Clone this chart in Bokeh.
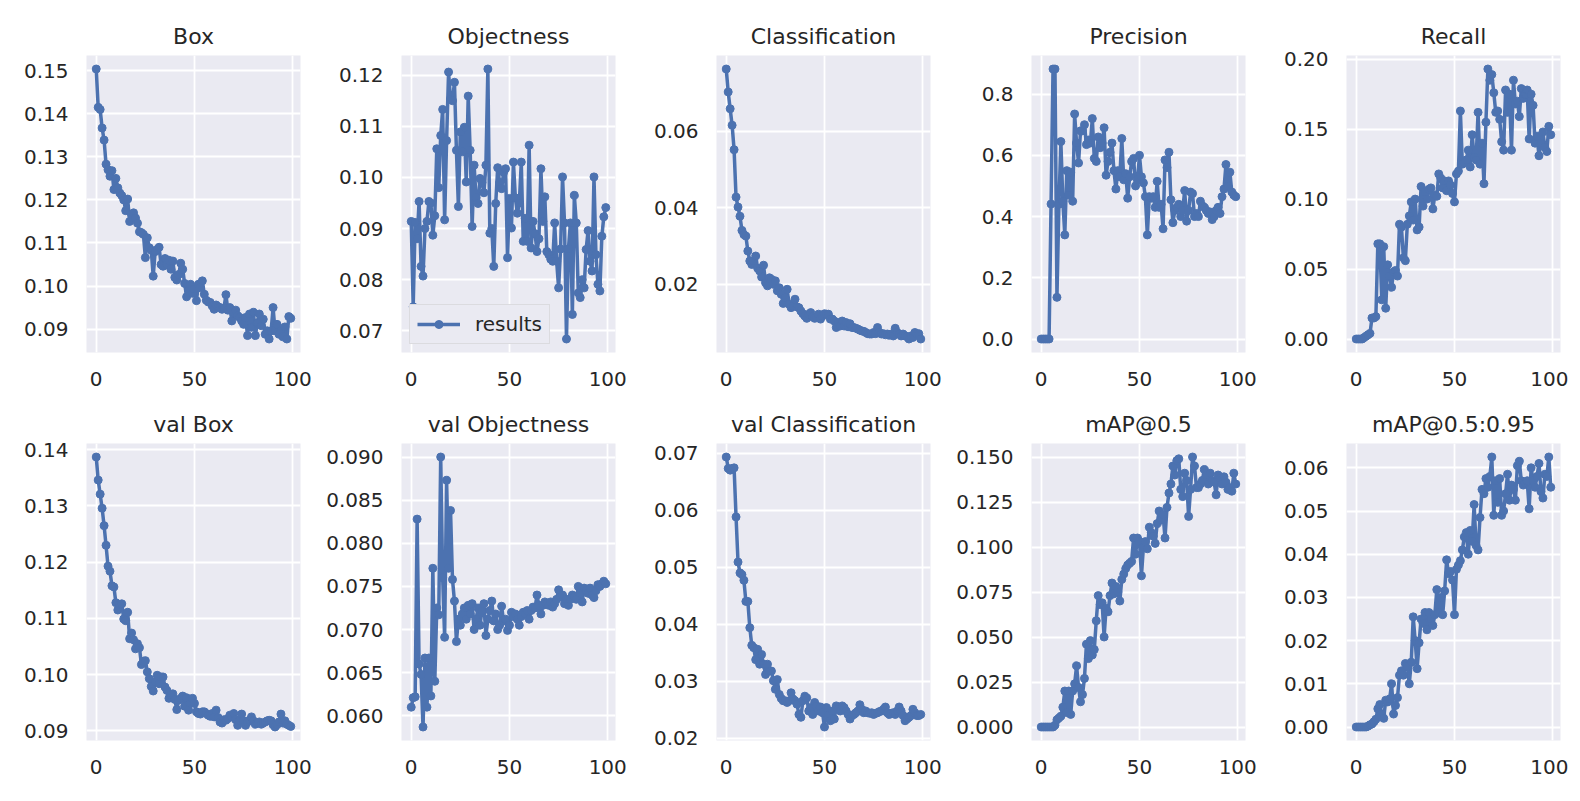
from bokeh.plotting import figure
from bokeh.layouts import gridplot
from bokeh.models import FixedTicker, PrintfTickFormatter, Range1d
from bokeh.embed import file_html
from bokeh.resources import INLINE

epochs = list(range(100))

titles = ["Box", "Objectness", "Classification", "Precision", "Recall",
          "val Box", "val Objectness", "val Classification", "mAP@0.5", "mAP@0.5:0.95"]

box = [0.1504,0.1415,0.1410,0.1367,0.1339,0.1283,0.1270,0.1255,0.1268,0.1224,
0.1250,0.1228,0.1216,0.1210,0.1200,0.1175,0.1202,0.1150,0.1166,0.1170,
0.1158,0.1146,0.1126,0.1124,0.1120,0.1066,0.1112,0.1089,0.1083,0.1023,
0.1080,0.1085,0.1090,0.1050,0.1046,0.1064,0.1050,0.1060,0.1039,0.1058,
0.1020,0.1014,0.1027,0.1053,0.1039,0.1006,0.0975,0.0989,0.1004,0.0983,
0.0993,0.0966,0.1004,0.0996,0.1012,0.0981,0.0967,0.0963,0.0962,0.0954,
0.0946,0.0956,0.0952,0.0950,0.0946,0.0949,0.0980,0.0944,0.0950,0.0919,
0.0939,0.0944,0.0931,0.0927,0.0919,0.0911,0.0927,0.0885,0.0935,0.0904,
0.0939,0.0885,0.0915,0.0935,0.0908,0.0923,0.0888,0.0896,0.0877,0.0896,
0.0950,0.0896,0.0911,0.0888,0.0896,0.0882,0.0905,0.0877,0.0929,0.0925]

objectness = [0.0914,0.0747,0.0912,0.0880,0.0953,0.0826,0.0807,0.0900,0.0914,0.0953,
0.0950,0.0887,0.0925,0.1056,0.0980,0.1082,0.1133,0.0917,0.1072,0.1206,
0.1153,0.1150,0.1186,0.1053,0.0943,0.1089,0.1050,0.1098,0.0991,0.1159,
0.1053,0.0904,0.1024,0.0960,0.0949,0.0998,0.0990,0.0970,0.1024,0.1212,
0.0891,0.0900,0.0826,0.0949,0.1019,0.0990,0.0978,0.1010,0.1017,0.0843,
0.0959,0.0901,0.1030,0.0960,0.0930,0.0950,0.1030,0.0875,0.0920,0.0875,
0.1063,0.0862,0.0914,0.0890,0.0855,0.0880,0.1017,0.0914,0.0962,0.0855,
0.0849,0.0840,0.0836,0.0911,0.0836,0.0784,0.0860,0.1001,0.0911,0.0684,
0.0860,0.0911,0.0732,0.0965,0.0911,0.0774,0.0765,0.0800,0.0784,0.0859,
0.0896,0.0836,0.0817,0.1001,0.0849,0.0791,0.0778,0.0885,0.0923,0.0941]

classification = [0.0763,0.0703,0.0659,0.0616,0.0552,0.0428,0.0402,0.0378,0.0341,0.0330,
0.0326,0.0287,0.0261,0.0252,0.0261,0.0274,0.0242,0.0235,0.0219,0.0250,
0.0204,0.0196,0.0217,0.0213,0.0200,0.0209,0.0183,0.0191,0.0174,0.0150,
0.0165,0.0187,0.0148,0.0139,0.0143,0.0161,0.0141,0.0139,0.0130,0.0123,
0.0117,0.0111,0.0122,0.0126,0.0115,0.0111,0.0113,0.0122,0.0109,0.0117,
0.0123,0.0122,0.0122,0.0109,0.0109,0.0104,0.0087,0.0100,0.0091,0.0104,
0.0091,0.0100,0.0089,0.0097,0.0087,0.0087,0.0085,0.0083,0.0080,0.0078,
0.0077,0.0074,0.0071,0.0070,0.0070,0.0074,0.0071,0.0087,0.0074,0.0070,
0.0071,0.0068,0.0070,0.0067,0.0070,0.0065,0.0085,0.0074,0.0070,0.0065,
0.0070,0.0065,0.0063,0.0057,0.0065,0.0061,0.0074,0.0070,0.0071,0.0057]

precision = [0,0,0,0,0,0.441,0.882,0.882,0.136,0.44,
0.645,0.45,0.34,0.55,0.47,0.545,0.45,0.735,0.64,0.575,
0.68,0.68,0.70,0.635,0.65,0.64,0.72,0.59,0.58,0.66,
0.625,0.64,0.69,0.535,0.58,0.61,0.64,0.55,0.49,0.55,
0.53,0.655,0.52,0.54,0.46,0.53,0.58,0.59,0.50,0.52,
0.60,0.53,0.51,0.465,0.34,0.465,0.46,0.465,0.43,0.515,
0.43,0.44,0.36,0.585,0.56,0.61,0.455,0.38,0.42,0.43,
0.44,0.40,0.42,0.485,0.385,0.42,0.48,0.475,0.40,0.41,
0.40,0.45,0.435,0.43,0.42,0.41,0.415,0.39,0.40,0.42,
0.43,0.41,0.465,0.49,0.57,0.50,0.545,0.48,0.47,0.465]

recall = [0,0,0,0,0.001,0.002,0.003,0.004,0.015,0.015,
0.016,0.068,0.068,0.028,0.066,0.022,0.053,0.045,0.037,0.048,
0.049,0.045,0.082,0.080,0.058,0.056,0.082,0.088,0.098,0.085,
0.100,0.078,0.080,0.109,0.095,0.105,0.100,0.107,0.108,0.093,
0.103,0.102,0.118,0.115,0.108,0.113,0.106,0.113,0.110,0.104,
0.098,0.118,0.120,0.163,0.125,0.126,0.128,0.135,0.123,0.146,
0.130,0.128,0.162,0.125,0.140,0.111,0.155,0.193,0.185,0.189,
0.176,0.162,0.163,0.157,0.141,0.135,0.178,0.162,0.175,0.135,
0.185,0.168,0.170,0.159,0.179,0.172,0.175,0.178,0.143,0.175,
0.167,0.140,0.145,0.131,0.140,0.148,0.137,0.134,0.152,0.146]

val_box = [0.1387,0.1346,0.1321,0.1296,0.1265,0.1230,0.1193,0.1184,0.1158,0.1156,
0.1128,0.1115,0.1125,0.1126,0.1099,0.1096,0.1111,0.1064,0.1074,0.1062,
0.1046,0.1055,0.1048,0.1018,0.1024,0.1025,0.1005,0.0993,0.0979,0.0971,
0.0987,0.0999,0.0984,0.0996,0.0996,0.0978,0.0972,0.0958,0.0964,0.0966,
0.0956,0.0938,0.0955,0.0958,0.0962,0.0944,0.0959,0.0937,0.0949,0.0958,
0.0949,0.0934,0.0931,0.0930,0.0934,0.0934,0.0931,0.0928,0.0926,0.0931,
0.0925,0.0937,0.0924,0.0916,0.0914,0.0920,0.0919,0.0922,0.0928,0.0925,
0.0931,0.0920,0.0910,0.0919,0.0930,0.0918,0.0910,0.0916,0.0919,0.0925,
0.0918,0.0912,0.0914,0.0916,0.0912,0.0914,0.0916,0.0918,0.0919,0.0918,
0.0911,0.0907,0.0911,0.0916,0.0930,0.0914,0.0918,0.0912,0.0910,0.0908]

val_objectness = [0.0610,0.0621,0.0622,0.0828,0.0660,0.0648,0.0587,0.0667,0.0610,0.0667,
0.0623,0.0771,0.0640,0.0725,0.0717,0.0900,0.0760,0.0691,0.0873,0.0771,
0.0838,0.0758,0.0733,0.0686,0.0712,0.0705,0.0718,0.0725,0.0712,0.0728,
0.0718,0.0730,0.0700,0.0712,0.0725,0.0705,0.0722,0.0730,0.0693,0.0712,
0.0722,0.0733,0.0710,0.0718,0.0700,0.0705,0.0727,0.0710,0.0712,0.0699,
0.0705,0.0720,0.0715,0.0718,0.0712,0.0705,0.0715,0.0720,0.0718,0.0722,
0.0712,0.0722,0.0726,0.0725,0.0740,0.0728,0.0718,0.0728,0.0732,0.0730,
0.0728,0.0732,0.0726,0.0730,0.0735,0.0746,0.0738,0.0740,0.0730,0.0735,
0.0728,0.0735,0.0740,0.0738,0.0735,0.0750,0.0742,0.0732,0.0748,0.0745,
0.0742,0.0748,0.0740,0.0737,0.0745,0.0752,0.0750,0.0753,0.0756,0.0753]

val_classification = [0.0693,0.0673,0.0670,0.0673,0.0674,0.0588,0.0509,0.0490,0.0487,0.0477,
0.0440,0.0440,0.0394,0.0363,0.0359,0.0338,0.0356,0.0330,0.0347,0.0330,
0.0312,0.0330,0.0318,0.0318,0.0301,0.0286,0.0303,0.0277,0.0270,0.0266,
0.0266,0.0263,0.0266,0.0280,0.0269,0.0266,0.0260,0.0242,0.0237,0.0266,
0.0274,0.0271,0.0248,0.0254,0.0242,0.0263,0.0257,0.0248,0.0255,0.0245,
0.0220,0.0254,0.0240,0.0231,0.0248,0.0234,0.0257,0.0251,0.0248,0.0257,
0.0254,0.0248,0.0242,0.0234,0.0240,0.0242,0.0245,0.0248,0.0259,0.0251,
0.0245,0.0248,0.0245,0.0244,0.0245,0.0242,0.0244,0.0245,0.0247,0.0248,
0.0251,0.0255,0.0245,0.0242,0.0244,0.0245,0.0242,0.0248,0.0255,0.0248,
0.0240,0.0231,0.0234,0.0237,0.0240,0.0251,0.0245,0.0240,0.0240,0.0242]

map_05 = [0,0,0,0,0,0,0,0.001,0.004,0.005,
0.006,0.011,0.020,0.008,0.020,0.007,0.020,0.024,0.034,0.022,
0.014,0.018,0.027,0.046,0.038,0.048,0.040,0.043,0.059,0.073,
0.068,0.069,0.050,0.066,0.064,0.073,0.080,0.074,0.078,0.075,
0.070,0.082,0.085,0.088,0.090,0.091,0.092,0.105,0.096,0.105,
0.103,0.084,0.100,0.103,0.099,0.111,0.108,0.106,0.102,0.113,
0.120,0.115,0.118,0.105,0.122,0.130,0.135,0.145,0.140,0.148,
0.149,0.132,0.128,0.141,0.137,0.117,0.132,0.150,0.145,0.133,
0.133,0.135,0.137,0.143,0.140,0.135,0.141,0.137,0.136,0.129,
0.140,0.138,0.135,0.139,0.136,0.132,0.133,0.131,0.141,0.135]

map_05_095 = [0,0,0,0,0,0,0.0002,0.0005,0.0007,0.0012,
0.0018,0.0042,0.0052,0.0030,0.0020,0.0062,0.0058,0.0065,0.0100,0.0030,
0.0050,0.0068,0.0120,0.0130,0.0120,0.0147,0.0140,0.0100,0.0150,0.0255,
0.0200,0.0135,0.0195,0.0250,0.0240,0.0265,0.0225,0.0265,0.0250,0.0235,
0.0260,0.0318,0.0265,0.0300,0.0260,0.0315,0.0387,0.0355,0.0360,0.0340,
0.0260,0.0365,0.0375,0.0385,0.0410,0.0440,0.0450,0.0400,0.0455,0.0430,
0.0515,0.0420,0.0410,0.0485,0.0550,0.0540,0.0575,0.0555,0.0580,0.0625,
0.0490,0.0570,0.0520,0.0575,0.0490,0.0500,0.0540,0.0585,0.0525,0.0560,
0.0550,0.0525,0.0605,0.0615,0.0570,0.0560,0.0565,0.0570,0.0505,0.0600,
0.0570,0.0555,0.0580,0.0610,0.0545,0.0530,0.0585,0.0580,0.0625,0.0555]

series = [box, objectness, classification, precision, recall,
          val_box, val_objectness, val_classification, map_05, map_05_095]

y_ticks = [
    [0.09, 0.10, 0.11, 0.12, 0.13, 0.14, 0.15],
    [0.07, 0.08, 0.09, 0.10, 0.11, 0.12],
    [0.02, 0.04, 0.06],
    [0.0, 0.2, 0.4, 0.6, 0.8],
    [0.0, 0.05, 0.10, 0.15, 0.20],
    [0.09, 0.10, 0.11, 0.12, 0.13, 0.14],
    [0.060, 0.065, 0.070, 0.075, 0.080, 0.085, 0.090],
    [0.02, 0.03, 0.04, 0.05, 0.06, 0.07],
    [0.0, 0.025, 0.050, 0.075, 0.100, 0.125, 0.150],
    [0.0, 0.01, 0.02, 0.03, 0.04, 0.05, 0.06],
]
y_formats = ["%.2f", "%.2f", "%.2f", "%.1f", "%.2f",
             "%.2f", "%.3f", "%.2f", "%.3f", "%.2f"]
x_ticks = [0, 50, 100]

BLUE = "#4C72B0"
BG = "#EAEAF2"
TXT = "#262626"
FONT = "DejaVu Sans"

figs = []
for i in range(10):
    y = series[i]
    lo, hi = min(y), max(y)
    pad = 0.05 * (hi - lo)
    col = i % 5
    row = i // 5
    left = 86 if col == 0 else 80
    right = 21 if col < 4 else 8
    top = 55 if row == 0 else 47
    p = figure(frame_width=214, frame_height=297,
               x_range=Range1d(-4.95, 103.95), y_range=Range1d(lo - pad, hi + pad),
               output_backend="svg", toolbar_location=None,
               min_border_left=left, min_border_right=right,
               min_border_top=top, min_border_bottom=44,
               background_fill_color=BG, border_fill_color="white",
               outline_line_color=None, title=titles[i])
    p.title.align = "center"
    p.title.text_font = FONT
    p.title.text_font_size = "22px"
    p.title.text_font_style = "normal"
    p.title.text_color = TXT
    p.title.standoff = 13

    p.xaxis.ticker = FixedTicker(ticks=x_ticks)
    p.yaxis.ticker = FixedTicker(ticks=y_ticks[i])
    p.yaxis.formatter = PrintfTickFormatter(format=y_formats[i])
    for ax in (p.xaxis, p.yaxis):
        ax.axis_line_color = None
        ax.major_tick_line_color = None
        ax.minor_tick_line_color = None
        ax.major_tick_out = 0
        ax.major_tick_in = 0
        ax.major_label_text_font = FONT
        ax.major_label_text_font_size = "20px"
        ax.major_label_text_color = TXT
    p.xaxis.major_label_standoff = 19
    p.yaxis.major_label_standoff = 18

    p.xgrid.grid_line_color = "white"
    p.ygrid.grid_line_color = "white"
    p.xgrid.grid_line_width = 1.8
    p.ygrid.grid_line_width = 1.8

    if i == 1:
        p.line(epochs, y, line_color=BLUE, line_width=3.5, legend_label="results")
        p.scatter(epochs, y, size=8, fill_color=BLUE, line_color=BLUE, legend_label="results")
        lg = p.legend[0]
        lg.location = "bottom_left"
        lg.margin = 8
        lg.padding = 7
        lg.glyph_width = 43
        lg.glyph_height = 20
        lg.label_standoff = 15
        lg.label_text_font = FONT
        lg.label_text_font_size = "20px"
        lg.label_text_color = TXT
        lg.border_line_color = "#cccccc"
        lg.border_line_width = 1
        lg.background_fill_color = BG
        lg.background_fill_alpha = 1.0
    else:
        p.line(epochs, y, line_color=BLUE, line_width=3.5)
        p.scatter(epochs, y, size=8, fill_color=BLUE, line_color=BLUE)
    figs.append(p)

grid = gridplot([figs[:5], figs[5:]], toolbar_location=None)

open("out.html", "w").write(file_html(grid, INLINE))
